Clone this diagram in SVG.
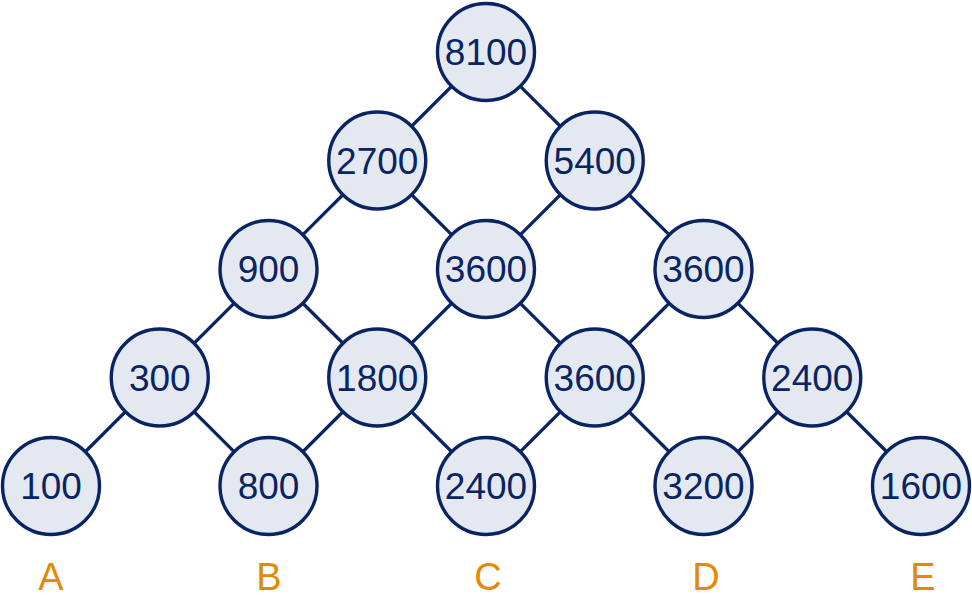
<svg xmlns="http://www.w3.org/2000/svg" width="972" height="598" viewBox="0 0 972 598">
<style>
.edge{stroke:#0a2463;stroke-width:3.2;fill:none}
.node circle{fill:#e4e9f1;stroke:#0a2463;stroke-width:3.4}
.node text{font-family:"Liberation Sans",Arial,sans-serif;font-size:37px;fill:#0a2463;text-anchor:middle}
.lab{font-family:"Liberation Sans",Arial,sans-serif;font-size:38px;fill:#e28a06;text-anchor:middle}
</style>
<rect width="972" height="598" fill="#ffffff"/>
<g id="connectors">
<line class="edge" x1="486" y1="52" x2="377.25" y2="160.5"/>
<line class="edge" x1="486" y1="52" x2="594.75" y2="160.5"/>
<line class="edge" x1="377.25" y1="160.5" x2="268.5" y2="269"/>
<line class="edge" x1="377.25" y1="160.5" x2="486" y2="269"/>
<line class="edge" x1="594.75" y1="160.5" x2="486" y2="269"/>
<line class="edge" x1="594.75" y1="160.5" x2="703.5" y2="269"/>
<line class="edge" x1="268.5" y1="269" x2="159.75" y2="377.5"/>
<line class="edge" x1="268.5" y1="269" x2="377.25" y2="377.5"/>
<line class="edge" x1="486" y1="269" x2="377.25" y2="377.5"/>
<line class="edge" x1="486" y1="269" x2="594.75" y2="377.5"/>
<line class="edge" x1="703.5" y1="269" x2="594.75" y2="377.5"/>
<line class="edge" x1="703.5" y1="269" x2="812.25" y2="377.5"/>
<line class="edge" x1="159.75" y1="377.5" x2="51" y2="486"/>
<line class="edge" x1="159.75" y1="377.5" x2="268.5" y2="486"/>
<line class="edge" x1="377.25" y1="377.5" x2="268.5" y2="486"/>
<line class="edge" x1="377.25" y1="377.5" x2="486" y2="486"/>
<line class="edge" x1="594.75" y1="377.5" x2="486" y2="486"/>
<line class="edge" x1="594.75" y1="377.5" x2="703.5" y2="486"/>
<line class="edge" x1="812.25" y1="377.5" x2="703.5" y2="486"/>
<line class="edge" x1="812.25" y1="377.5" x2="921" y2="486"/>
</g>
<g id="n8100" class="node"><circle cx="486" cy="52" r="48.5"/><text x="486" y="65">8100</text></g>
<g id="n2700" class="node"><circle cx="377.25" cy="160.5" r="48.5"/><text x="377.25" y="173.5">2700</text></g>
<g id="n5400" class="node"><circle cx="594.75" cy="160.5" r="48.5"/><text x="594.75" y="173.5">5400</text></g>
<g id="n900" class="node"><circle cx="268.5" cy="269" r="48.5"/><text x="268.5" y="282">900</text></g>
<g id="n3600a" class="node"><circle cx="486" cy="269" r="48.5"/><text x="486" y="282">3600</text></g>
<g id="n3600b" class="node"><circle cx="703.5" cy="269" r="48.5"/><text x="703.5" y="282">3600</text></g>
<g id="n300" class="node"><circle cx="159.75" cy="377.5" r="48.5"/><text x="159.75" y="390.5">300</text></g>
<g id="n1800" class="node"><circle cx="377.25" cy="377.5" r="48.5"/><text x="377.25" y="390.5">1800</text></g>
<g id="n3600c" class="node"><circle cx="594.75" cy="377.5" r="48.5"/><text x="594.75" y="390.5">3600</text></g>
<g id="n2400a" class="node"><circle cx="812.25" cy="377.5" r="48.5"/><text x="812.25" y="390.5">2400</text></g>
<g id="n100" class="node"><circle cx="51" cy="486" r="48.5"/><text x="51" y="499">100</text></g>
<g id="n800" class="node"><circle cx="268.5" cy="486" r="48.5"/><text x="268.5" y="499">800</text></g>
<g id="n2400b" class="node"><circle cx="486" cy="486" r="48.5"/><text x="486" y="499">2400</text></g>
<g id="n3200" class="node"><circle cx="703.5" cy="486" r="48.5"/><text x="703.5" y="499">3200</text></g>
<g id="n1600" class="node"><circle cx="921" cy="486" r="48.5"/><text x="921" y="499">1600</text></g>
<g id="labels">
<text class="lab" x="51" y="590">A</text>
<text class="lab" x="269" y="590">B</text>
<text class="lab" x="488" y="590">C</text>
<text class="lab" x="706" y="590">D</text>
<text class="lab" x="923" y="590">E</text>
</g>
</svg>
